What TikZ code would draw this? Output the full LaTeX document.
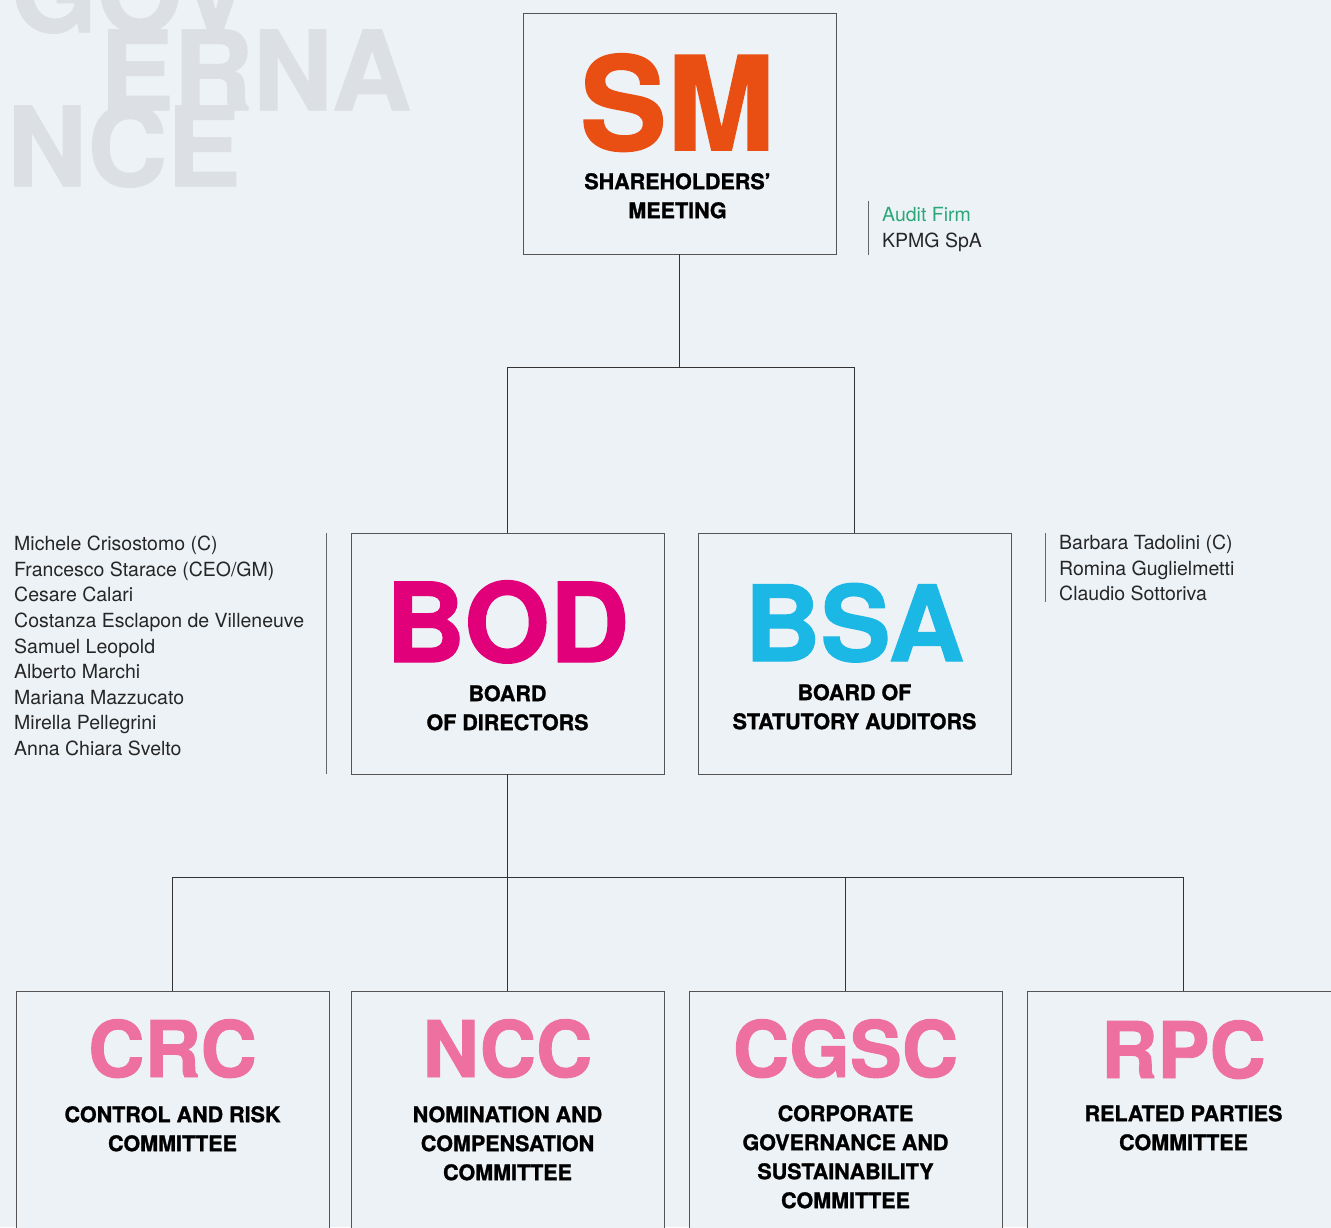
\documentclass[tikz,border=0pt]{standalone}
\usepackage{fontspec}
\setmainfont{TeX Gyre Heros}
\newfontface\heavyface{TeX Gyre Heros Bold}[FakeBold=1.2]
\usetikzlibrary{positioning,calc}
\definecolor{bgblue}{HTML}{EDF2F6}
\definecolor{wmgray}{HTML}{DCDFE4}
\definecolor{smorange}{HTML}{E94E12}
\definecolor{bodmagenta}{HTML}{E2007A}
\definecolor{bsacyan}{HTML}{1BB8E6}
\definecolor{compink}{HTML}{EE70A0}
\definecolor{auditgreen}{HTML}{2BA77A}
\definecolor{framegray}{HTML}{555555}
\tikzset{
  organ/.style={rectangle, draw=framegray, line width=1pt, fill=bgblue, minimum width=313pt, minimum height=241pt, inner sep=0pt, outer sep=0pt},
  committee/.style={organ, minimum height=300pt, anchor=north},
  bigtag/.style={font=\fontsize{110}{110}\heavyface, anchor=base, inner sep=0pt},
  smalltag/.style={font=\fontsize{78}{78}\heavyface, anchor=base, inner sep=0pt, text=compink},
  caption/.style={font=\fontsize{21.5}{29}\heavyface, align=center, anchor=north, inner sep=0pt},
  names/.style={font=\fontsize{19.5}{25.6}\selectfont, align=left, anchor=north west, inner sep=0pt, text=black!85},
  watermark/.style={font=\fontsize{110}{110}\heavyface, text=wmgray, anchor=base west, inner sep=0pt},
  connect/.style={line width=1pt, draw=black!80},
  divider/.style={line width=1pt, draw=black!60}
}
\begin{document}
\begin{tikzpicture}[x=1pt,y=-1pt]
  \path[use as bounding box, fill=bgblue] (0,0) rectangle (1331,1227);
  \clip (0,0) rectangle (1331,1227);

  % watermark
  \node[watermark] (wm1) at (11,32) {GOV};
  \node[watermark] (wm2) at (100,110) {ERNA};
  \node[watermark] (wm3) at (7,186) {NCE};

  % main organs
  \node[organ] (sm) at (679.5,133.5) {};
  \node[organ] (bod) at (507.5,653.5) {};
  \node[organ] (bsa) [right=34pt of bod] {};

  \node[bigtag, text=smorange, font=\fontsize{130}{130}\heavyface] (smtag) at ($(sm.north)+(-2,137)$) {SM};
  \node[caption] (smcap) at ($(smtag.base)+(0,23)$) {SHAREHOLDERS’\\MEETING};
  \node[bigtag, text=bodmagenta] (bodtag) at ($(bod.north)+(0,129)$) {BOD};
  \node[caption] (bodcap) at ($(bodtag.base)+(0,23)$) {BOARD\\OF DIRECTORS};
  \node[bigtag, text=bsacyan, font=\fontsize{105}{105}\heavyface] (bsatag) at ($(bsa.north)+(0,128)$) {BSA};
  \node[caption] (bsacap) at ($(bsatag.base)+(0,23)$) {BOARD OF\\STATUTORY AUDITORS};

  % committees
  \node[committee] (crc) at (172.5,991) {};
  \node[committee] (ncc) [right=22pt of crc] {};
  \node[committee] (cgsc) [right=25pt of ncc] {};
  \node[committee] (rpc) [right=25pt of cgsc] {};

  \node[smalltag] (crctag) at ($(crc.north)+(0,86)$) {CRC};
  \node[caption] (crccap) at ($(crctag.base)+(0,29)$) {CONTROL AND RISK\\COMMITTEE};
  \node[smalltag] (ncctag) at ($(ncc.north)+(0,86)$) {NCC};
  \node[caption] (ncccap) at ($(ncctag.base)+(0,29)$) {NOMINATION AND\\COMPENSATION\\COMMITTEE};
  \node[smalltag] (cgsctag) at ($(cgsc.north)+(0,86)$) {CGSC};
  \node[caption] (cgsccap) at ($(cgsctag.base)+(0,28)$) {CORPORATE\\GOVERNANCE AND\\SUSTAINABILITY\\COMMITTEE};
  \node[smalltag] (rpctag) at ($(rpc.north)+(0,87)$) {RPC};
  \node[caption] (rpccap) at ($(rpctag.base)+(0,27)$) {RELATED PARTIES\\COMMITTEE};

  % connectors
  \coordinate (smsplit) at ($(sm.south)+(0,113)$);
  \draw[connect] (sm.south) -- (smsplit);
  \draw[connect] (smsplit) -| (bod.north);
  \draw[connect] (smsplit) -| (bsa.north);
  \coordinate (bodsplit) at ($(bod.south)+(0,103)$);
  \draw[connect] (bod.south) -- (bodsplit);
  \foreach \c in {crc,ncc,cgsc,rpc}
    \draw[connect] (bodsplit) -| (\c.north);

  % members
  \node[names] (bodnames) at (14,536) {Michele Crisostomo (C)\\Francesco Starace (CEO/GM)\\Cesare Calari\\Costanza Esclapon de Villeneuve\\Samuel Leopold\\Alberto Marchi\\Mariana Mazzucato\\Mirella Pellegrini\\Anna Chiara Svelto};
  \draw[divider] ($(bod.north west)+(-25,0)$) -- ($(bod.south west)+(-25,0)$);
  \node[names] (bsanames) at (1059,535) {Barbara Tadolini (C)\\Romina Guglielmetti\\Claudio Sottoriva};
  \draw[divider] (1045,533) -- (1045,602);
  \node[names] (audit) at (882,207) {\textcolor{auditgreen}{Audit Firm}\\KPMG SpA};
  \draw[divider] (868,201) -- (868,255);
\end{tikzpicture}
\end{document}
